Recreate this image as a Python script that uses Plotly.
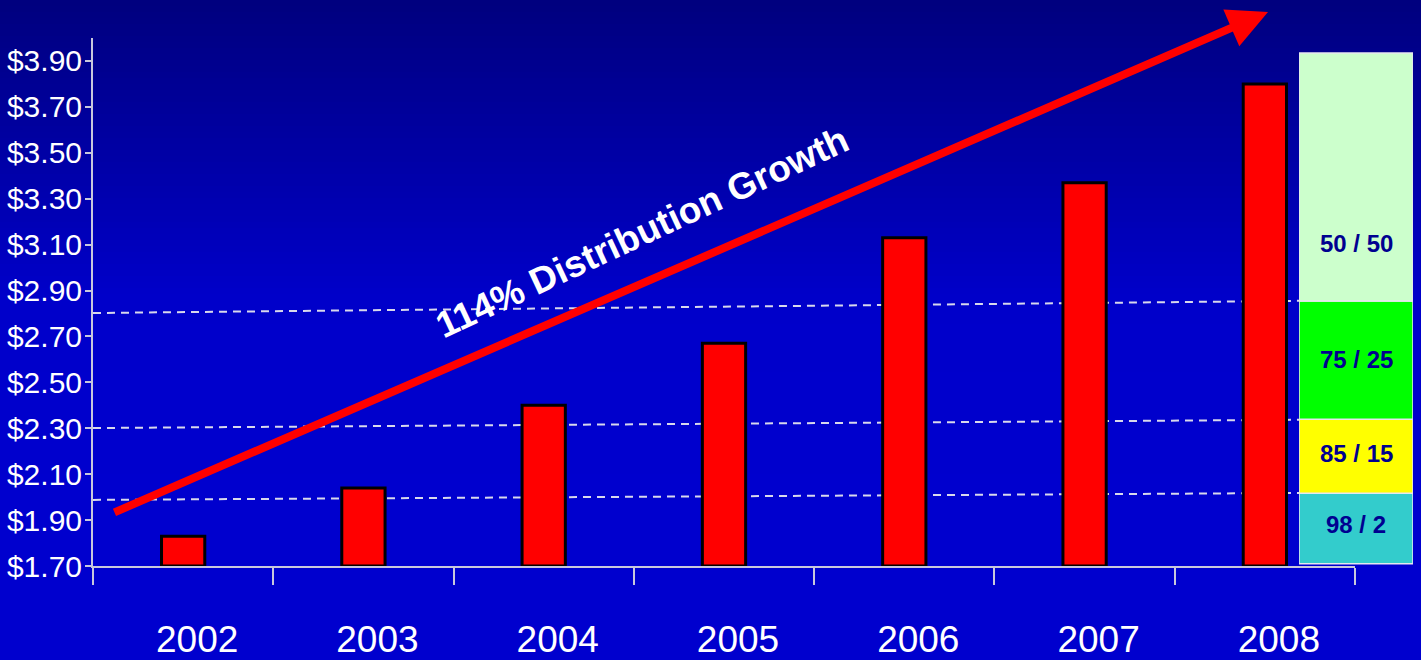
import plotly.graph_objects as go

# ---------------- data ----------------
years = ["2002", "2003", "2004", "2005", "2006", "2007", "2008"]
distribution = [1.83, 2.04, 2.40, 2.67, 3.13, 3.37, 3.80]

y_tick_values = [1.70, 1.90, 2.10, 2.30, 2.50, 2.70, 2.90, 3.10, 3.30, 3.50, 3.70, 3.90]
y_tick_labels = ["$1.70", "$1.90", "$2.10", "$2.30", "$2.50", "$2.70",
                 "$2.90", "$3.10", "$3.30", "$3.50", "$3.70", "$3.90"]

zone_labels = ["98 / 2", "85 / 15", "75 / 25", "50 / 50"]
zone_bottom = [1.71, 2.017, 2.339, 2.854]
zone_top = [2.017, 2.339, 2.854, 3.935]
zone_label_y = [1.879, 2.192, 2.598, 3.103]
zone_colors = ["#33CCCC", "#FFFF00", "#00FF00", "#CCFFCC"]

threshold_left = [1.988, 2.301, 2.802]
threshold_right = [2.018, 2.337, 2.855]

growth_text = "114% Distribution Growth"

# ---------------- layout geometry ----------------
W, H = 1421, 660
L, R, T, B = 93, 6, 38, 94
plot_w = W - L - R
plot_h = H - T - B
x_main_dom = [0, (1355 - L) / plot_w]
x_box_dom = [(1299 - L) / plot_w, (1413 - L) / plot_w]

FONT = "Liberation Sans, Arial, sans-serif"
AXIS_COLOR = "#C8C8DC"

fig = go.Figure()

fig.add_trace(go.Bar(
    x=years, y=[v - 1.70 for v in distribution], base=[1.70] * len(years),
    width=0.24,
    marker=dict(color="#FF0000", line=dict(color="#000000", width=3)),
    xaxis="x", yaxis="y", showlegend=False, hoverinfo="skip",
))

fig.add_trace(go.Bar(
    x=[0] * len(zone_labels),
    y=[t - b for t, b in zip(zone_top, zone_bottom)],
    base=zone_bottom, width=1.0,
    marker=dict(color=zone_colors, line=dict(color="#E6E6F0", width=1.5)),
    xaxis="x2", yaxis="y", showlegend=False, hoverinfo="skip",
))

# ---------------- background gradient ----------------
def px_to_paper_x(px):
    return (px - L) / plot_w

def px_to_paper_y(py):
    return (H - B - py) / plot_h

shapes = []
strip = 6
for py in range(0, H + strip, strip):
    mid = py + strip / 2
    if mid < 300:
        blue = 126 + (202 - 126) * (mid / 300)
    else:
        blue = 202 + 4 * min(1, (mid - 300) / 200)
    col = f"rgb(0,0,{int(round(blue))})"
    shapes.append(dict(
        type="rect", xref="paper", yref="paper", layer="below",
        x0=px_to_paper_x(-5), x1=px_to_paper_x(W + 5),
        y0=px_to_paper_y(py + strip + 1), y1=px_to_paper_y(py),
        fillcolor=col, line=dict(width=0),
    ))

for y0, y1 in zip(threshold_left, threshold_right):
    shapes.append(dict(
        type="line", xref="paper", yref="y", layer="below",
        x0=0, x1=x_box_dom[0], y0=y0, y1=y1,
        line=dict(color="#D8D8EC", width=2, dash="8px,6px"),
    ))

annotations = []
for lab, ly in zip(zone_labels, zone_label_y):
    annotations.append(dict(
        x=0, y=ly, xref="x2", yref="y", text=f"<b>{lab}</b>", showarrow=False,
        font=dict(family=FONT, size=24, color="#000090"),
    ))

# red growth arrow
annotations.append(dict(
    x=px_to_paper_x(1268), y=px_to_paper_y(12), xref="paper", yref="paper",
    ax=113 - 1268, ay=513 - 12, axref="pixel", ayref="pixel",
    text="", showarrow=True, arrowhead=2, arrowsize=1.0, arrowwidth=8,
    arrowcolor="#FF0000", standoff=0, startstandoff=0,
))
annotations.append(dict(
    x=px_to_paper_x(642), y=px_to_paper_y(232), xref="paper", yref="paper",
    text=f"<b>{growth_text}</b>", showarrow=False, textangle=-25,
    font=dict(family=FONT, size=37, color="#FFFFFF"),
))

fig.update_layout(
    width=W, height=H,
    margin=dict(l=L, r=R, t=T, b=B, autoexpand=False),
    paper_bgcolor="#0000CC", plot_bgcolor="rgba(0,0,0,0)",
    font=dict(family=FONT, color="#FFFFFF"),
    barmode="overlay",
    shapes=shapes, annotations=annotations,
    xaxis=dict(
        domain=x_main_dom, type="category", range=[-0.5, 6.5],
        showline=True, linecolor=AXIS_COLOR, linewidth=2,
        ticks="outside", tickson="boundaries", ticklen=17, tickwidth=2, tickcolor=AXIS_COLOR,
        showgrid=False, zeroline=False, automargin=False,
        tickfont=dict(family=FONT, size=37, color="#FFFFFF"),
        ticklabelstandoff=40, ticklabelshift=14,
        anchor="y",
    ),
    xaxis2=dict(
        domain=x_box_dom, range=[-0.5, 0.5], visible=False, anchor="y",
        showgrid=False, zeroline=False, fixedrange=True,
    ),
    yaxis=dict(
        range=[1.70, 4.00], tickvals=y_tick_values, ticktext=y_tick_labels,
        showline=True, linecolor=AXIS_COLOR, linewidth=2,
        ticks="outside", ticklen=6, tickwidth=2, tickcolor=AXIS_COLOR,
        showgrid=False, zeroline=False, automargin=False,
        tickfont=dict(family=FONT, size=30, color="#FFFFFF"),
        ticklabelstandoff=-3,
        anchor="x",
    ),
)

fig.write_html(
    "out.html",
    config={"displayModeBar": False},
    post_script="document.body.style.margin='0';document.body.style.overflow='hidden';",
)
